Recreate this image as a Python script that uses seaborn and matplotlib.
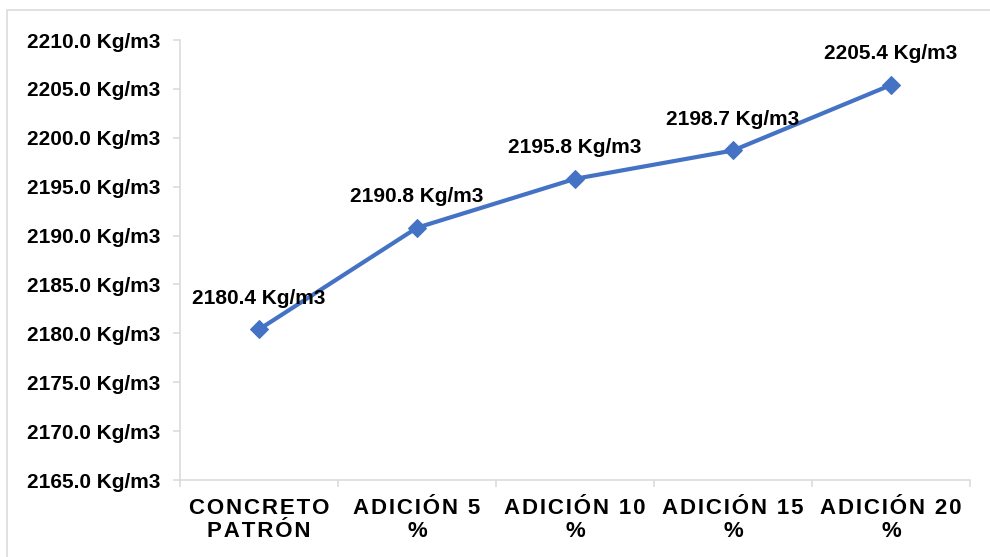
import matplotlib
matplotlib.use("Agg")
import matplotlib.pyplot as plt
from matplotlib.patches import Rectangle
import pandas as pd
import seaborn as sns

# Datos: peso unitario del concreto por porcentaje de adición
ensayos = ["CONCRETO PATRÓN", "ADICIÓN 5 %", "ADICIÓN 10 %", "ADICIÓN 15 %", "ADICIÓN 20 %"]
peso_unitario = [2180.4, 2190.8, 2195.8, 2198.7, 2205.4]
marcas_y = [2165, 2170, 2175, 2180, 2185, 2190, 2195, 2200, 2205, 2210]

sns.set_theme(style="white")
plt.rcParams["font.family"] = ["Liberation Sans", "DejaVu Sans"]
plt.rcParams["font.weight"] = "bold"

AZUL = "#4472C4"
GRIS = "#D9D9D9"
FS = 15


def espaciar(texto):
    """Separa las letras con un espacio fino y corta la última palabra a otra línea."""
    inicio, fin = texto.rsplit(" ", 1)
    sep = "\u200a"
    linea1 = sep.join(inicio)
    linea2 = sep.join(fin)
    return linea1 + "\n" + linea2


df = pd.DataFrame({"pos": range(len(ensayos)), "peso": peso_unitario})

fig = plt.figure(figsize=(9.9, 5.57), dpi=100)
ax = fig.add_axes([180 / 990, 1 - 480 / 557, 790 / 990, 440 / 557])

sns.lineplot(data=df, x="pos", y="peso", ax=ax, color=AZUL, linewidth=3.0,
             marker="D", markersize=9.5, markeredgecolor=AZUL, markerfacecolor=AZUL)

for i, v in enumerate(peso_unitario):
    ax.annotate(f"{v:.1f} Kg/m3", (i, v), xytext=(0, 22.5), textcoords="offset points",
                ha="center", va="center", fontsize=FS, fontweight="bold", color="black")

ax.set_ylim(marcas_y[0], marcas_y[-1])
ax.set_yticks(marcas_y)
ax.set_yticklabels([f"{m:.1f} Kg/m3" for m in marcas_y])

ax.set_xlim(-0.5, len(ensayos) - 0.5)
ax.set_xticks([i - 0.5 for i in range(len(ensayos) + 1)])
ax.set_xticklabels([])
ax.set_xticks(range(len(ensayos)), minor=True)
ax.set_xticklabels([espaciar(t) for t in ensayos], minor=True, fontsize=16,
                   fontweight="bold", linespacing=1.15)

ax.tick_params(axis="y", which="major", length=5, width=1.1, color=GRIS, pad=9,
               labelsize=FS, labelcolor="black", left=True)
ax.tick_params(axis="x", which="major", length=5, width=1.1, color=GRIS, bottom=True)
ax.tick_params(axis="x", which="minor", length=0, pad=13, labelcolor="black")

for lado in ["top", "right"]:
    ax.spines[lado].set_visible(False)
for lado in ["left", "bottom"]:
    ax.spines[lado].set_color(GRIS)
    ax.spines[lado].set_linewidth(1.1)

ax.set_xlabel("")
ax.set_ylabel("")
ax.grid(False)

fig.patches.append(Rectangle((7 / 990, -0.05), 1.05, 1 - 10 / 557 + 0.05,
                             transform=fig.transFigure, fill=False,
                             edgecolor=GRIS, linewidth=1.1, zorder=0))

fig.savefig("out.png", dpi=100)
